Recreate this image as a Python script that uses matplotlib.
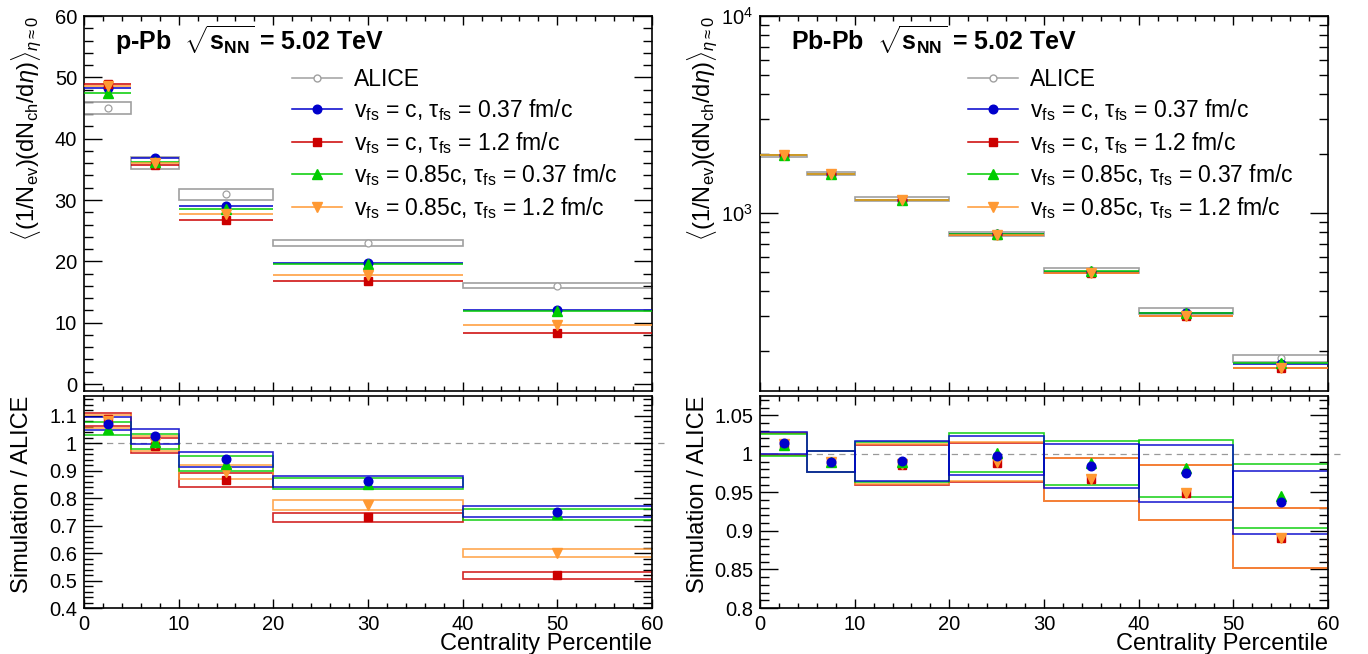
import numpy as np
import matplotlib
matplotlib.use('Agg')
import matplotlib.pyplot as plt
from matplotlib.patches import Rectangle
from matplotlib.lines import Line2D
from matplotlib.ticker import MultipleLocator, LogLocator, NullFormatter, FuncFormatter

# ROOT-like look: Helvetica clone, ticks inside on all sides
plt.rcParams['font.family'] = ['Liberation Sans', 'DejaVu Sans']
plt.rcParams['mathtext.fontset'] = 'custom'
plt.rcParams['mathtext.rm'] = 'Liberation Sans'
plt.rcParams['mathtext.it'] = 'Liberation Sans:italic'
plt.rcParams['mathtext.bf'] = 'Liberation Sans:bold'

# --- p-Pb data ---
ppb_edges = [0, 5, 10, 20, 40, 60]
ppb_alice = [45.0, 36.0, 30.9, 23.0, 16.0]
ppb_alice_err = [1.0, 1.0, 0.9, 0.53, 0.42]
ppb_c_037 = [48.2, 36.9, 29.1, 19.8, 12.0]
ppb_c_12 = [48.9, 35.7, 26.8, 16.8, 8.3]
ppb_085_037 = [47.4, 36.2, 28.6, 19.6, 11.85]
ppb_085_12 = [48.6, 36.0, 27.7, 17.8, 9.6]

# --- Pb-Pb data ---
pbpb_edges = [0, 5, 10, 20, 30, 40, 50, 60]
pbpb_alice = [1943, 1587, 1180, 786, 512, 318, 183]
pbpb_alice_err = [27, 22, 31, 20, 15, 12, 8]
pbpb_c_037 = [1970, 1571, 1169, 784, 504, 310, 171.5]
pbpb_c_12 = [1968, 1571, 1163, 777, 495, 302, 163]
pbpb_085_037 = [1966, 1571, 1168, 787, 506, 312, 173]
pbpb_085_12 = [1968, 1571, 1164, 778, 495, 302, 163]

labels = ['ALICE',
          r'$\mathrm{v_{fs}}$ = c, $\mathrm{\tau_{fs}}$ = 0.37 fm/c',
          r'$\mathrm{v_{fs}}$ = c, $\mathrm{\tau_{fs}}$ = 1.2 fm/c',
          r'$\mathrm{v_{fs}}$ = 0.85c, $\mathrm{\tau_{fs}}$ = 0.37 fm/c',
          r'$\mathrm{v_{fs}}$ = 0.85c, $\mathrm{\tau_{fs}}$ = 1.2 fm/c']

GRAY = '#a0a0a0'
BLUE = '#0000cc'
RED = '#cc0000'
GREEN = '#00cc00'
ORANGE = '#ff9933'
styles = {'c037': (BLUE, 'o', 6.2), 'c12': (RED, 's', 6.2),
          'p037': (GREEN, '^', 6.5), 'p12': (ORANGE, 'v', 6.5)}

W, H = 1368, 654
def pix(x0, y0, x1, y1):
    return [x0 / W, 1 - y1 / H, (x1 - x0) / W, (y1 - y0) / H]


def draw_top(ax, edges, alice, err, models):
    lo = np.array(edges[:-1]); hi = np.array(edges[1:]); mid = (lo + hi) / 2
    for l, h, v, e in zip(lo, hi, alice, err):
        ax.add_patch(Rectangle((l, v - e), h - l, 2 * e, fill=False, ec=GRAY, lw=1.2, zorder=2))
    ax.plot(mid, alice, ls='none', marker='o', mfc='white', mec=GRAY, ms=5, mew=0.9, zorder=3)
    for key in ['c037', 'c12', 'p037', 'p12']:
        vals = np.array(models[key])
        color, marker, ms = styles[key]
        ax.hlines(vals, lo, hi, color=color, lw=1.1, zorder=3)
        ax.plot(mid, vals, ls='none', marker=marker, color=color, ms=ms, zorder=4)


def draw_ratio(ax, edges, alice, err, models):
    lo = np.array(edges[:-1]); hi = np.array(edges[1:]); mid = (lo + hi) / 2
    alice = np.array(alice, float); rel = np.array(err) / alice
    ax.plot([0, 61.4], [1, 1], ls=(0, (5, 4)), color='#999999', lw=0.9, clip_on=False, zorder=1)
    for key in ['c12', 'p12', 'p037', 'c037']:
        r = np.array(models[key]) / alice
        color, marker, ms = styles[key]
        for l, h, ri, d in zip(lo, hi, r, rel):
            ax.add_patch(Rectangle((l, ri * (1 - d)), h - l, 2 * ri * d, fill=False,
                                   ec=color, lw=1.2, alpha=0.85, zorder=2))
    for key in ['c12', 'p12', 'p037', 'c037']:
        r = np.array(models[key]) / alice
        color, marker, ms = styles[key]
        ax.plot(mid, r, ls='none', marker=marker, color=color, ms=ms, zorder=4)


def style_axes(ax):
    ax.tick_params(which='both', direction='in', top=True, right=True, labelsize=14.5, pad=5)
    ax.tick_params(axis='y', which='major', length=13, width=1.0)
    ax.tick_params(axis='y', which='minor', length=6.5, width=1.0)
    ax.tick_params(axis='x', which='major', length=6.5, width=1.0)
    ax.tick_params(axis='x', which='minor', length=3.3, width=1.0)
    ax.xaxis.set_major_locator(MultipleLocator(10))
    ax.xaxis.set_minor_locator(MultipleLocator(2))
    ax.set_xlim(0, 60)
    for s in ax.spines.values():
        s.set_linewidth(1.2)


fmt_g = FuncFormatter(lambda v, p: f'{v:g}')
ylabel_top = r'$\langle(1/\mathrm{N_{ev}})(\mathrm{dN_{ch}}/\mathrm{d}\eta)\rangle_{\eta\approx0}$'

fig = plt.figure(figsize=(13.68, 6.54), dpi=100)

panels = [
    (84, 'p-Pb', ppb_edges, ppb_alice, ppb_alice_err,
     {'c037': ppb_c_037, 'c12': ppb_c_12, 'p037': ppb_085_037, 'p12': ppb_085_12}),
    (760, 'Pb-Pb', pbpb_edges, pbpb_alice, pbpb_alice_err,
     {'c037': pbpb_c_037, 'c12': pbpb_c_12, 'p037': pbpb_085_037, 'p12': pbpb_085_12}),
]

for x0, system, edges, alice, err, models in panels:
    ax_t = fig.add_axes(pix(x0, 16, x0 + 568, 391))
    ax_b = fig.add_axes(pix(x0, 396, x0 + 568, 608))
    draw_top(ax_t, edges, alice, err, models)
    draw_ratio(ax_b, edges, alice, err, models)
    style_axes(ax_t)
    style_axes(ax_b)
    ax_t.tick_params(labelbottom=False)

    if system == 'p-Pb':
        ax_t.set_ylim(-1.14, 60)
        ax_t.yaxis.set_major_locator(MultipleLocator(10))
        ax_t.yaxis.set_minor_locator(MultipleLocator(2))
        ax_b.set_ylim(0.4, 1.172)
        ax_b.yaxis.set_major_locator(MultipleLocator(0.1))
        ax_b.yaxis.set_minor_locator(MultipleLocator(0.02))
    else:
        ax_t.set_yscale('log')
        ax_t.set_ylim(125, 1e4)
        ax_t.yaxis.set_major_locator(LogLocator(base=10))
        ax_t.yaxis.set_minor_locator(LogLocator(base=10, subs=np.arange(2, 10)))
        ax_t.yaxis.set_minor_formatter(NullFormatter())
        ax_b.set_ylim(0.8, 1.075)
        ax_b.yaxis.set_major_locator(MultipleLocator(0.05))
        ax_b.yaxis.set_minor_locator(MultipleLocator(0.01))
    ax_b.yaxis.set_major_formatter(fmt_g)

    ax_t.set_ylabel(ylabel_top, fontsize=17, loc='top')
    ax_t.yaxis.set_label_coords(-0.070, 1.0)
    ax_b.set_ylabel('Simulation / ALICE', fontsize=17, loc='top')
    ax_b.yaxis.set_label_coords(-0.089, 1.0)
    ax_b.set_xlabel('Centrality Percentile', fontsize=17, loc='right')
    ax_b.xaxis.set_label_coords(1.0, -0.118)

    ax_t.text(0.055, 0.909, system + r'  $\mathbf{\sqrt{s_{NN}}}$ = 5.02 TeV',
              transform=ax_t.transAxes, fontsize=18, fontweight='bold', va='baseline')

    handles = [Line2D([], [], color=GRAY, marker='o', mfc='white', mec=GRAY, ms=5, lw=1.1)]
    for key in ['c037', 'c12', 'p037', 'p12']:
        color, marker, ms = styles[key]
        handles.append(Line2D([], [], color=color, marker=marker, ms=ms, lw=1.1))
    ax_t.legend(handles, labels, loc='upper left', bbox_to_anchor=(0.366, 0.862),
                frameon=False, fontsize=16.5, handlelength=2.2, handletextpad=0.5,
                labelspacing=0.29, borderpad=0, borderaxespad=0)

fig.savefig('out.png', dpi=100)
